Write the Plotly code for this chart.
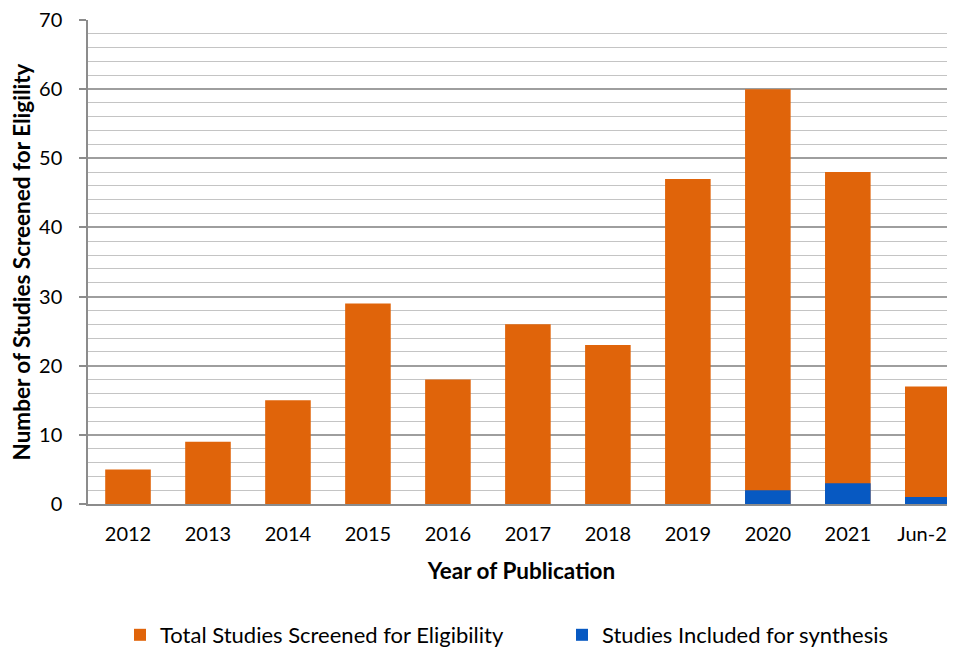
import plotly.graph_objects as go

categories = ["2012", "2013", "2014", "2015", "2016", "2017", "2018", "2019", "2020", "2021", "Jun-22"]
total_screened = [5, 9, 15, 29, 18, 26, 23, 47, 60, 48, 17]
included = [0, 0, 0, 0, 0, 0, 0, 0, 2, 3, 1]
y_ticks = [0, 10, 20, 30, 40, 50, 60, 70]

FONT = "Lato"
# the page body has an 8px margin, so the figure is sized/placed to compensate
W, H, OFF = 947, 642, 8

fig = go.Figure()
fig.add_trace(go.Bar(
    x=categories, y=total_screened, name="Total Studies Screened for Eligibility",
    marker=dict(color="#E0640A", line=dict(width=0)), width=0.57, legend="legend",
))
fig.add_trace(go.Bar(
    x=categories, y=included, name="Studies Included for synthesis",
    marker=dict(color="#0759C2", line=dict(width=0)), width=0.57, legend="legend2",
))

leg_common = dict(orientation="h", yanchor="middle", xanchor="left",
                  xref="container", yref="container",
                  font=dict(family=FONT, size=22, color="black"), itemwidth=30,
                  bgcolor="rgba(0,0,0,0)")
leg_y = 1 - (635 - OFF) / H

fig.update_layout(
    width=W, height=H,
    margin=dict(l=88 - OFF, r=0, t=20 - OFF, b=H - (504 - OFF), autoexpand=False),
    barmode="overlay",
    plot_bgcolor="white", paper_bgcolor="white",
    font=dict(family=FONT, size=20, color="black"),
    showlegend=True,
    legend=dict(x=(120 - OFF) / W, y=leg_y, **leg_common),
    legend2=dict(x=(562 - OFF) / W, y=leg_y, **leg_common),
    xaxis=dict(
        type="category", range=[-0.5, 10.34], automargin=False,
        showgrid=False, showline=True, linecolor="#8C8C8C", linewidth=1.5,
        ticks="", tickfont=dict(family=FONT, size=20), ticklabelstandoff=11,
        ticklabeloverflow="allow",
        title=dict(text="<b>Year of Publication</b>", font=dict(family=FONT, size=22.5), standoff=19),
    ),
    yaxis=dict(
        range=[0, 70], tickvals=y_ticks, automargin=False,
        showline=True, linecolor="#8C8C8C", linewidth=1.5,
        ticks="outside", ticklen=7, tickcolor="#8C8C8C", tickwidth=1.5,
        ticklabelstandoff=13, ticklabeloverflow="allow",
        gridcolor="#9E9E9E", gridwidth=1.5,
        minor=dict(dtick=2, showgrid=True, gridcolor="#C4C4C4", gridwidth=1),
        tickfont=dict(family=FONT, size=20),
        title=dict(text="<b>Number of Studies Screened for Eligility</b>", font=dict(family=FONT, size=22.5), standoff=10),
        zeroline=False,
    ),
)

fig.write_html("out.html")
